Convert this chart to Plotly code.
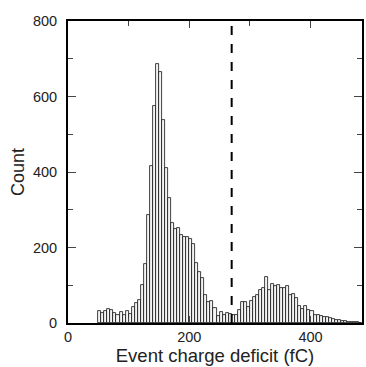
import plotly.graph_objects as go

# Histogram bins (left edges, fC) and counts
bin_width = 5
bin_starts = list(range(50, 485, 5))
counts = [
    32, 26, 32, 38, 35, 26, 20, 28, 21, 32,        # 50-95
    24, 42, 53, 61, 101, 156, 286, 416, 575, 686,  # 100-145
    665, 538, 410, 330, 264, 248, 251, 233, 227, 227,  # 150-195
    222, 210, 160, 135, 118, 74, 55, 58, 39, 19,   # 200-245
    30, 21, 27, 23, 21, 21, 34, 56, 56, 42,        # 250-295
    59, 70, 75, 88, 92, 123, 88, 103, 97, 100,     # 300-345
    94, 92, 98, 74, 77, 65, 45, 38, 46, 34,        # 350-395
    33, 21, 20, 18, 17, 15, 13, 11, 9, 7,          # 400-445
    5, 4, 3, 3, 2, 2, 1,                           # 450-480
]
threshold = 270
x_ticks = [0, 200, 400]
y_ticks = [0, 200, 400, 600, 800]

centers = [s + bin_width / 2 for s in bin_starts]

fig = go.Figure()
fig.add_trace(go.Bar(x=centers, y=counts, width=bin_width,
                     marker=dict(color="#f4f4f4", line=dict(color="#111", width=0.8)),
                     showlegend=False))

fig.add_shape(type="line", xref="x", yref="paper", x0=threshold, x1=threshold,
              y0=0, y1=1, line=dict(color="black", width=2, dash="dash"))

font = "Liberation Sans, Arial, sans-serif"
fig.update_layout(
    width=366, height=367,
    margin=dict(l=68, r=2, t=21, b=44),
    paper_bgcolor="white", plot_bgcolor="white",
    font=dict(family=font, color="#222", size=14),
    bargap=0,
)
fig.update_xaxes(range=[0, 485], tickvals=x_ticks, ticks="inside", ticklen=7,
                 showline=True, linecolor="black", linewidth=2, mirror="allticks",
                 showgrid=False, zeroline=False,
                 minor=dict(dtick=100, ticks="inside", ticklen=5, tick0=0),
                 title=dict(text="Event charge deficit (fC)", font=dict(size=18.5), standoff=0),
                 tickfont=dict(size=14.5))
fig.update_yaxes(range=[0, 800], tickvals=y_ticks, ticks="inside", ticklen=8,
                 showline=True, linecolor="black", linewidth=2, mirror="allticks",
                 showgrid=False, zeroline=False, ticklabelstandoff=6,
                 minor=dict(dtick=100, ticks="inside", ticklen=5, tick0=0),
                 title=dict(text="Count", font=dict(size=18), standoff=4),
                 tickfont=dict(size=14.5))

fig.write_html("out.html")
